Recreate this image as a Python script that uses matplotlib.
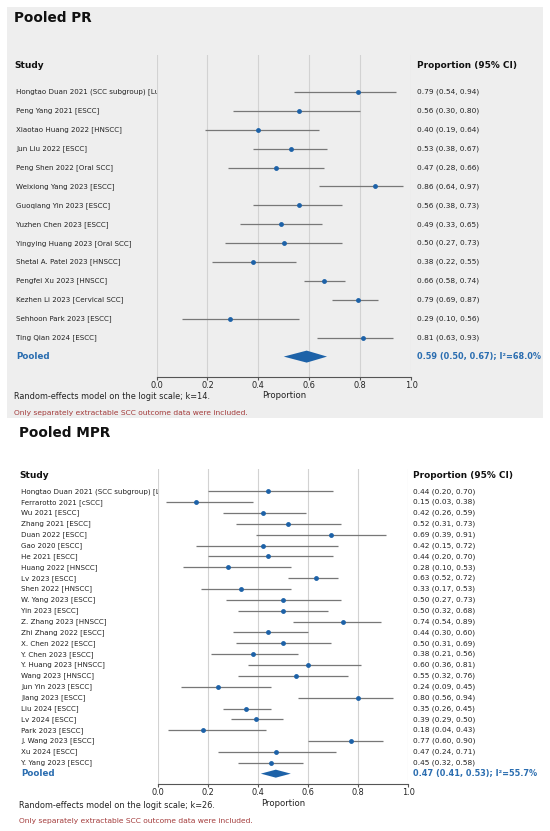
import matplotlib
matplotlib.use('Agg')
import matplotlib.pyplot as plt
from matplotlib.patches import Rectangle, Polygon
from matplotlib import transforms

# ---------------- data ----------------
pr_studies = [
    "Hongtao Duan 2021 (SCC subgroup) [Lung SCC]",
    "Peng Yang 2021 [ESCC]",
    "Xiaotao Huang 2022 [HNSCC]",
    "Jun Liu 2022 [ESCC]",
    "Peng Shen 2022 [Oral SCC]",
    "Weixiong Yang 2023 [ESCC]",
    "Guoqiang Yin 2023 [ESCC]",
    "Yuzhen Chen 2023 [ESCC]",
    "Yingying Huang 2023 [Oral SCC]",
    "Shetal A. Patel 2023 [HNSCC]",
    "Pengfei Xu 2023 [HNSCC]",
    "Kezhen Li 2023 [Cervical SCC]",
    "Sehhoon Park 2023 [ESCC]",
    "Ting Qian 2024 [ESCC]",
]
pr_est = [0.79, 0.56, 0.40, 0.53, 0.47, 0.86, 0.56, 0.49, 0.50, 0.38, 0.66, 0.79, 0.29, 0.81]
pr_lo = [0.54, 0.30, 0.19, 0.38, 0.28, 0.64, 0.38, 0.33, 0.27, 0.22, 0.58, 0.69, 0.10, 0.63]
pr_hi = [0.94, 0.80, 0.64, 0.67, 0.66, 0.97, 0.73, 0.65, 0.73, 0.55, 0.74, 0.87, 0.56, 0.93]
pr_pooled = (0.59, 0.50, 0.67)
pr_i2 = 68.0

mpr_studies = [
    "Hongtao Duan 2021 (SCC subgroup) [Lung SCC]",
    "Ferrarotto 2021 [cSCC]",
    "Wu 2021 [ESCC]",
    "Zhang 2021 [ESCC]",
    "Duan 2022 [ESCC]",
    "Gao 2020 [ESCC]",
    "He 2021 [ESCC]",
    "Huang 2022 [HNSCC]",
    "Lv 2023 [ESCC]",
    "Shen 2022 [HNSCC]",
    "W. Yang 2023 [ESCC]",
    "Yin 2023 [ESCC]",
    "Z. Zhang 2023 [HNSCC]",
    "Zhi Zhang 2022 [ESCC]",
    "X. Chen 2022 [ESCC]",
    "Y. Chen 2023 [ESCC]",
    "Y. Huang 2023 [HNSCC]",
    "Wang 2023 [HNSCC]",
    "Jun Yin 2023 [ESCC]",
    "Jiang 2023 [ESCC]",
    "Liu 2024 [ESCC]",
    "Lv 2024 [ESCC]",
    "Park 2023 [ESCC]",
    "J. Wang 2023 [ESCC]",
    "Xu 2024 [ESCC]",
    "Y. Yang 2023 [ESCC]",
]
mpr_est = [0.44, 0.15, 0.42, 0.52, 0.69, 0.42, 0.44, 0.28, 0.63, 0.33, 0.50, 0.50, 0.74,
           0.44, 0.50, 0.38, 0.60, 0.55, 0.24, 0.80, 0.35, 0.39, 0.18, 0.77, 0.47, 0.45]
mpr_lo = [0.20, 0.03, 0.26, 0.31, 0.39, 0.15, 0.20, 0.10, 0.52, 0.17, 0.27, 0.32, 0.54,
          0.30, 0.31, 0.21, 0.36, 0.32, 0.09, 0.56, 0.26, 0.29, 0.04, 0.60, 0.24, 0.32]
mpr_hi = [0.70, 0.38, 0.59, 0.73, 0.91, 0.72, 0.70, 0.53, 0.72, 0.53, 0.73, 0.68, 0.89,
          0.60, 0.69, 0.56, 0.81, 0.76, 0.45, 0.94, 0.45, 0.50, 0.43, 0.90, 0.71, 0.58]
mpr_pooled = (0.47, 0.41, 0.53)
mpr_i2 = 55.7

x_ticks = [0.0, 0.2, 0.4, 0.6, 0.8, 1.0]
x_tick_labels = ["0.0", "0.2", "0.4", "0.6", "0.8", "1.0"]

# ---------------- style ----------------
W, H = 550, 831
fig = plt.figure(figsize=(5.5, 8.31), dpi=100)
fig.patch.set_facecolor('white')

BLUE = '#1d62a8'
BLUE_TXT = '#2a6db0'
TXT = '#222222'
RED = '#a33b3b'
ERR = '#777777'
GRID = '#d2d2d2'


def fx(px):
    return px / W


def fy(py):
    return 1 - py / H


# top panel gray background
fig.add_artist(Rectangle((fx(7), fy(418)), fx(543) - fx(7), (418 - 7) / H,
                         transform=fig.transFigure, facecolor='#eeeeee',
                         edgecolor='none', zorder=-10))


def panel(title, studies, est, lo, hi, pooled, i2, L):
    n = len(studies)
    x0, x1, ytop, ybot = L['x0'], L['x1'], L['ytop'], L['ybot']
    first, sp = L['first'], L['sp']
    ylim = ((ybot - first) / sp, (ytop - first) / sp)
    ax = fig.add_axes([fx(x0), fy(ybot), fx(x1) - fx(x0), (ybot - ytop) / H])
    ax.set_facecolor('none')
    ax.set_xlim(0, 1)
    ax.set_ylim(*ylim)
    ax.set_xticks(x_ticks)
    ax.set_xticklabels(x_tick_labels)
    ax.set_yticks([])
    for s in ['top', 'right', 'left']:
        ax.spines[s].set_visible(False)
    ax.spines['bottom'].set_color('#555555')
    ax.spines['bottom'].set_linewidth(0.8)
    ax.tick_params(axis='x', length=2, width=0.8, color='#555555',
                   labelsize=5.9, labelcolor=TXT, pad=1.0)
    ax.grid(axis='x', color=GRID, lw=0.8)
    ax.set_axisbelow(True)

    ys = list(range(n))
    xerr = [[e - l for e, l in zip(est, lo)], [h - e for e, h in zip(est, hi)]]
    ax.errorbar(est, ys, xerr=xerr, fmt='o', color=BLUE, ms=3.5, mew=0,
                ecolor=ERR, elinewidth=0.9, capsize=1.6, capthick=0.8, zorder=3)
    pe, pl, ph = pooled
    hh = L['dh'] / sp
    ax.add_patch(Polygon([(pl, n), (pe, n - hh), (ph, n), (pe, n + hh)],
                         closed=True, facecolor=BLUE, edgecolor='none', zorder=3))

    # label axes (clipped study names)
    lax = fig.add_axes([fx(3), fy(ybot), fx(x0) - fx(3), (ybot - ytop) / H])
    lax.set_facecolor('none')
    lax.set_xlim(0, 1)
    lax.set_ylim(*ylim)
    lax.axis('off')
    lab_x = (L['lab_x'] - 3) / (x0 - 3)
    for i, s in enumerate(studies):
        lax.text(lab_x, i, s, fontsize=5.1, color=TXT, va='center', ha='left',
                 clip_on=True)
    lax.text(lab_x, n, "Pooled", fontsize=6.3, color=BLUE_TXT, fontweight='bold',
             va='center', ha='left')

    tr = transforms.blended_transform_factory(fig.transFigure, ax.transData)
    for i, (e, l, h) in enumerate(zip(est, lo, hi)):
        fig.text(fx(L['ci_x']), i, f"{e:.2f} ({l:.2f}, {h:.2f})", transform=tr,
                 fontsize=5.3, color=TXT, va='center', ha='left')
    fig.text(fx(L['ci_x']), n, f"{pe:.2f} ({pl:.2f}, {ph:.2f}); I\u00b2={i2:.1f}%",
             transform=tr, fontsize=5.85, color=BLUE_TXT, fontweight='bold',
             va='center', ha='left')

    # headers / titles / notes
    fig.text(fx(L['title_x']), fy(L['title_y']), title, fontsize=9.8,
             fontweight='bold', color='#111111', va='center', ha='left')
    fig.text(fx(L['title_x']), fy(L['head_y']), "Study", fontsize=6.5,
             fontweight='bold', color='#111111', va='center', ha='left')
    fig.text(fx(L['ci_x']), fy(L['head_y']), "Proportion (95% CI)", fontsize=6.4,
             fontweight='bold', color='#111111', va='center', ha='left')
    fig.text(fx((x0 + x1) / 2), fy(L['xlab_y']), "Proportion", fontsize=6.1,
             color=TXT, va='center', ha='center')
    fig.text(fx(L['title_x']), fy(L['note_y']),
             f"Random-effects model on the logit scale; k={n}.", fontsize=5.9,
             color=TXT, va='center', ha='left')
    fig.text(fx(L['title_x']), fy(L['red_y']),
             "Only separately extractable SCC outcome data were included.",
             fontsize=5.4, color=RED, va='center', ha='left')
    return ax


top_layout = dict(x0=156.5, x1=411, ytop=55, ybot=377, first=92, sp=18.9,
                  lab_x=16.3, ci_x=416.7, title_x=14, title_y=18, head_y=66,
                  xlab_y=395, note_y=396.7, red_y=412.7, dh=6)
bot_layout = dict(x0=158.3, x1=408.3, ytop=469, ybot=784, first=491.3, sp=10.86,
                  lab_x=21, ci_x=413.3, title_x=19, title_y=433, head_y=475,
                  xlab_y=803.3, note_y=805, red_y=820.7, dh=4)

panel("Pooled PR", pr_studies, pr_est, pr_lo, pr_hi, pr_pooled, pr_i2, top_layout)
panel("Pooled MPR", mpr_studies, mpr_est, mpr_lo, mpr_hi, mpr_pooled, mpr_i2, bot_layout)

fig.savefig("out.png", dpi=100)
